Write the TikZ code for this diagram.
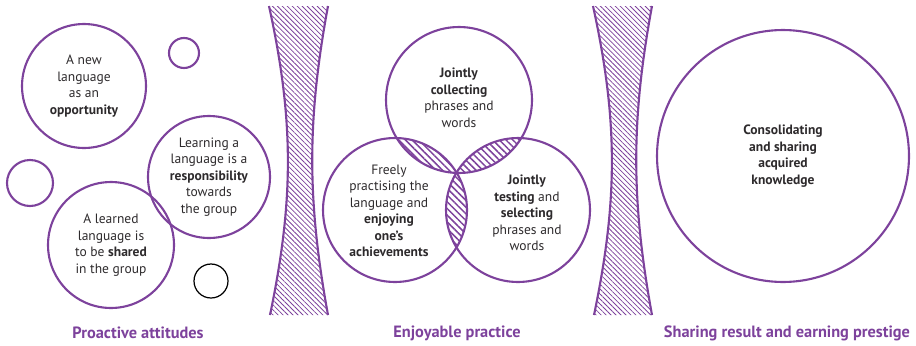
\documentclass[tikz,border=0pt]{standalone}
\usepackage{fontspec}
\setmainfont{PT Sans}
\usetikzlibrary{patterns.meta}

\definecolor{vio}{RGB}{125,66,156}
\definecolor{txt}{RGB}{45,42,44}

\begin{document}
\begin{tikzpicture}[
    x=0.02cm, y=-0.02cm,
    bubble/.style={circle, draw=vio, line width=1.2pt, minimum size=#1, inner sep=0pt, text=txt, align=center, font=\fontsize{7.7}{9.4}\selectfont},
    dot/.style={circle, draw=#1, line width=1.2pt, inner sep=0pt},
    label/.style={text=txt, align=center, font=\fontsize{7.7}{9.4}\selectfont},
    caption/.style={text=vio, font=\fontsize{9.3}{11}\selectfont\bfseries},
    hatch/.style={pattern={Lines[angle=-45, distance=2pt, line width=0.45pt]}, pattern color=vio},
    lens/.style={pattern={Lines[angle=-45, distance=2.7pt, line width=0.85pt]}, pattern color=vio}
]
    \useasboundingbox (0,0) rectangle (916,345);

    % Sabliers hachures
    \foreach \gx in {269, 593} {
        \fill[hatch] (\gx,6) .. controls (\gx+25,120) and (\gx+25,200) .. (\gx+1,315)
            -- (\gx+59,315) .. controls (\gx+38,200) and (\gx+38,120) .. (\gx+59,6) -- cycle;
        \draw[vio, line width=1.2pt] (\gx,6) .. controls (\gx+25,120) and (\gx+25,200) .. (\gx+1,315);
        \draw[vio, line width=1.2pt] (\gx+59,6) .. controls (\gx+38,120) and (\gx+38,200) .. (\gx+59,315);
    }

    % Attitudes
    \node[bubble=2.48cm] (opportunity) at (84,86) {A new\\language\\as an\\\textbf{opportunity}};
    \node[bubble=2.44cm] (responsibility) at (209,177) {Learning a\\language is a\\\textbf{responsibility}\\towards\\the group};
    \node[bubble=2.52cm] (shared) at (111,245) {A learned\\language is\\to be \textbf{shared}\\in the group};
    \node[dot=vio, minimum size=0.6cm] (small1) at (184,53) {};
    \node[dot=vio, minimum size=0.92cm] (small2) at (30,183) {};
    \node[dot=black, line width=0.7pt, minimum size=0.68cm] (small3) at (211,281) {};

    % Pratique : intersections hachurees
    \coordinate (ctop) at (459,100);
    \coordinate (cleft) at (395,210);
    \coordinate (cright) at (518,210);
    \begin{scope}
        \clip (ctop) circle[radius=73];
        \fill[lens] (cleft) circle[radius=72];
        \fill[lens] (cright) circle[radius=72];
    \end{scope}
    \begin{scope}
        \clip (cleft) circle[radius=72];
        \fill[lens] (cright) circle[radius=72];
    \end{scope}
    \node[bubble=2.92cm] (collecting) at (ctop) {};
    \node[bubble=2.88cm] (practising) at (cleft) {};
    \node[bubble=2.88cm] (testing) at (cright) {};
    \node[label] (collecting text) at (459,98) {\textbf{Jointly}\\\textbf{collecting}\\phrases and\\words};
    \node[label] (practising text) at (389,211) {Freely\\practising the\\language and\\\textbf{enjoying}\\\textbf{one’s}\\\textbf{achievements}};
    \node[label] (testing text) at (527,213) {\textbf{Jointly}\\\textbf{testing} and\\\textbf{selecting}\\phrases and\\words};

    % Resultat
    \node[bubble=5.04cm, font=\fontsize{7.7}{9.4}\selectfont\bfseries] (knowledge) at (783,156) {Consolidating\\and sharing\\acquired\\knowledge};

    % Legendes
    \node[caption] (cap1) at (138,333) {Proactive attitudes};
    \node[caption] (cap2) at (457,333) {Enjoyable practice};
    \node[caption] (cap3) at (787,333) {Sharing result and earning prestige};
\end{tikzpicture}
\end{document}
